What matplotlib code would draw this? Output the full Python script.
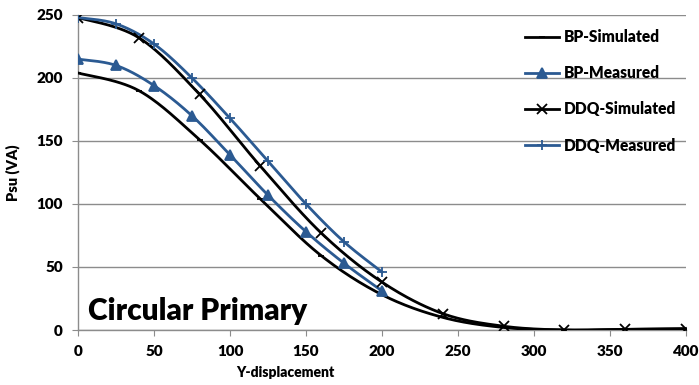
import numpy as np
import matplotlib
matplotlib.use("Agg")
import matplotlib.pyplot as plt

plt.rcParams['font.family'] = ['Lato', 'DejaVu Sans']

# Measured and simulated supply power versus Y-displacement
x_bp_sim = [0, 40, 80, 120, 160, 200, 240, 280, 320, 360, 400]
bp_sim = [204, 190, 151, 104, 59, 28, 10, 2, 0, 0.5, 1]

x_bp_meas = [0, 25, 50, 75, 100, 125, 150, 175, 200]
bp_meas = [215, 210, 194, 170, 139, 107, 78, 53, 31]

x_ddq_sim = [0, 40, 80, 120, 160, 200, 240, 280, 320, 360, 400]
ddq_sim = [248, 232, 187, 130, 77, 38, 13, 3, 0, 0.5, 1]

x_ddq_meas = [0, 25, 50, 75, 100, 125, 150, 175, 200]
ddq_meas = [248, 243, 227, 200, 168, 134, 100, 70, 46]

x_ticks = [0, 50, 100, 150, 200, 250, 300, 350, 400]
y_ticks = [0, 50, 100, 150, 200, 250]

BLUE = '#2B5A92'
WEIGHT = 'heavy'


def smooth(xs, ys, n=30, t=0.5):
    """Cardinal-spline curve through the given points (Excel-style smoothing)."""
    xs = np.asarray(xs, float)
    ys = np.asarray(ys, float)
    P = np.column_stack([xs, ys])
    out = []
    for i in range(len(P) - 1):
        p0 = P[i - 1] if i > 0 else P[i]
        p1, p2 = P[i], P[i + 1]
        p3 = P[i + 2] if i + 2 < len(P) else P[i + 1]
        c1 = p1 + (p2 - p0) * t / 3
        c2 = p2 - (p3 - p1) * t / 3
        s = np.linspace(0, 1, n)[:, None]
        seg = ((1 - s) ** 3) * p1 + 3 * ((1 - s) ** 2) * s * c1 + 3 * (1 - s) * s ** 2 * c2 + s ** 3 * p2
        out.append(seg if i == 0 else seg[1:])
    c = np.vstack(out)
    return c[:, 0], c[:, 1]


fig = plt.figure(figsize=(6.99, 3.85), dpi=100)
ax = fig.add_axes([78 / 699, 55 / 385, 608 / 699, 315 / 385])

series = [
    (x_bp_sim, bp_sim, 'black', '_', 5, 'BP-Simulated'),
    (x_bp_meas, bp_meas, BLUE, '^', 7, 'BP-Measured'),
    (x_ddq_sim, ddq_sim, 'black', 'x', 7, 'DDQ-Simulated'),
    (x_ddq_meas, ddq_meas, BLUE, '+', 7, 'DDQ-Measured'),
]
for xs, ys, col, mk, ms, lab in series:
    sx, sy = smooth(xs, ys)
    ax.plot(sx, sy, color=col, lw=2.0, zorder=3)
    ax.plot(xs, ys, linestyle='none', marker=mk, color=col, ms=ms, mew=1.3, zorder=4)
    ax.plot([], [], color=col, lw=2.0, marker=mk, ms=ms, mew=1.3, label=lab)

ax.set_xlim(0, 400)
ax.set_ylim(0, 250)
ax.set_xticks(x_ticks)
ax.set_yticks(y_ticks)
ax.grid(axis='y', color='#8C8C8C', lw=1.0)
ax.set_axisbelow(True)
for s in ['top', 'right']:
    ax.spines[s].set_visible(False)
for s in ['left', 'bottom']:
    ax.spines[s].set_color('#8C8C8C')
    ax.spines[s].set_linewidth(1.0)
ax.tick_params(axis='both', direction='out', length=4, color='#8C8C8C',
               labelsize=11, pad=7)
for lbl in ax.get_xticklabels() + ax.get_yticklabels():
    lbl.set_fontweight(WEIGHT)

ax.set_xlabel('Y-displacement', fontsize=10, fontweight=WEIGHT)
ax.xaxis.set_label_coords((285 - 78) / 608, -0.115)
ax.set_ylabel('Psu (VA)', fontsize=10.5, fontweight=WEIGHT)
ax.yaxis.set_label_coords(-0.095, 0.5)

ax.text(6.5, 8, 'Circular Primary', fontsize=21.5, fontweight=WEIGHT, ha='left', va='baseline')

leg = ax.legend(loc='upper left', bbox_to_anchor=(0.712, 1.0), frameon=False,
                handlelength=2.2, labelspacing=1.3, handletextpad=0.3,
                prop={'weight': WEIGHT, 'size': 11.2})

fig.savefig('out.png', dpi=100)
